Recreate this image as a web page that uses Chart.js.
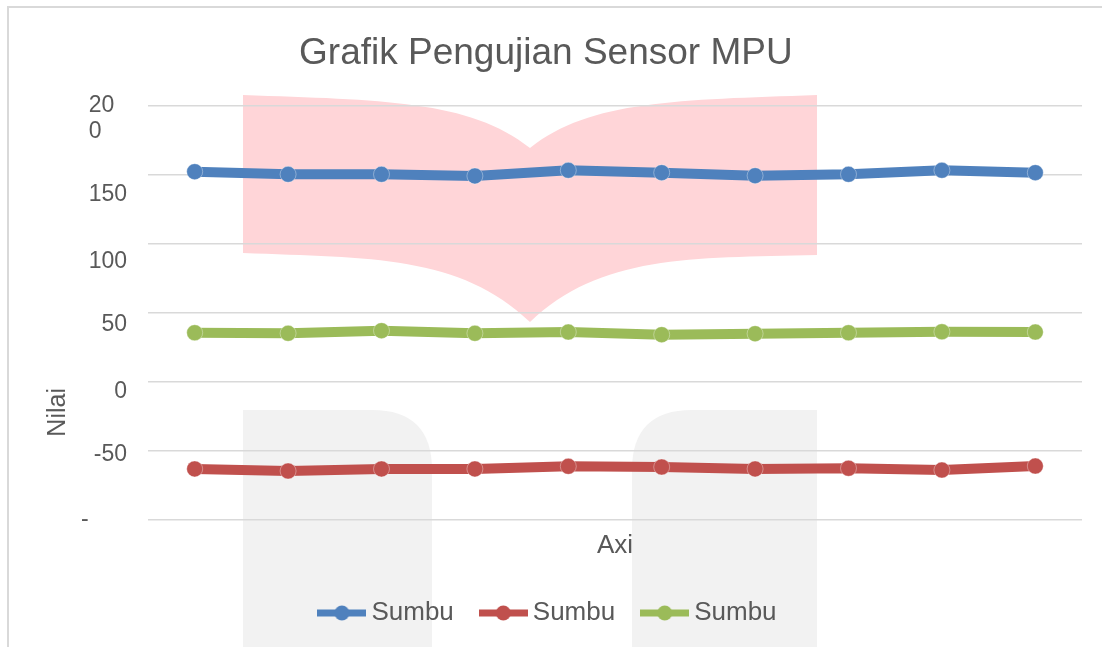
<!DOCTYPE html>
<html>
<head>
<meta charset="utf-8">
<script src="https://cdn.jsdelivr.net/npm/chart.js@4.4.1/dist/chart.umd.min.js"></script>
<style>
  html, body { margin: 0; padding: 0; background: #fff; }
  #wrap { position: relative; width: 1102px; height: 647px; }
</style>
</head>
<body>
<div id="wrap"><canvas id="mpuChart" width="1102" height="647"></canvas></div>
<script>
// data
const labels = ['1', '2', '3', '4', '5', '6', '7', '8', '9', '10'];
const sumbuX = [152.4, 150.5, 150.5, 149.3, 153.4, 151.7, 149.5, 150.5, 153.4, 151.7];
const sumbuY = [-63.0, -64.5, -63.0, -63.0, -61.1, -61.6, -63.0, -62.5, -63.8, -60.9];
const sumbuZ = [35.7, 35.3, 37.2, 35.3, 36.2, 34.3, 35.0, 35.7, 36.4, 36.2];
const seriesNames = ['Sumbu', 'Sumbu', 'Sumbu'];
const seriesColors = ['#4F81BD', '#C0504D', '#9BBB59'];
const yTicks = [200, 150, 100, 50, 0, -50, -100];

const FONT = '"Liberation Sans", Arial, sans-serif';
const TXT = '#595959';

// the labels in the picture sit a bit below their gridlines, by a different amount each
const labelDrop = { 200: 26, 150: 40, 100: 36, 50: 24, 0: 20, '-50': 8, '-100': 0 };

// legend symbol: short thick line with a dot in the middle
function legendIcon(color) {
    const c = document.createElement('canvas');
    c.width = 49; c.height = 18;
    const g = c.getContext('2d');
    g.strokeStyle = color;
    g.lineWidth = 7;
    g.beginPath(); g.moveTo(0, 9); g.lineTo(49, 9); g.stroke();
    g.fillStyle = color;
    g.beginPath(); g.arc(24.5, 9, 7.5, 0, Math.PI * 2); g.fill();
    return c;
}

// page background: frame and the faded watermark behind the plot
const backdrop = {
    id: 'backdrop',
    beforeDraw(chart) {
        const ctx = chart.ctx;
        ctx.save();
        ctx.fillStyle = '#fff';
        ctx.fillRect(0, 0, chart.width, chart.height);

        // grey blocks
        ctx.fillStyle = '#F2F2F2';
        ctx.beginPath();
        ctx.moveTo(243, 647); ctx.lineTo(243, 410); ctx.lineTo(372, 410);
        ctx.quadraticCurveTo(432, 410, 432, 470); ctx.lineTo(432, 647); ctx.closePath();
        ctx.fill();
        ctx.beginPath();
        ctx.moveTo(817, 647); ctx.lineTo(817, 410); ctx.lineTo(692, 410);
        ctx.quadraticCurveTo(632, 410, 632, 470); ctx.lineTo(632, 647); ctx.closePath();
        ctx.fill();

        // pink book
        ctx.fillStyle = '#FFD5D8';
        ctx.beginPath();
        ctx.moveTo(243, 95);
        ctx.bezierCurveTo(380, 100, 470, 100, 530, 148);
        ctx.bezierCurveTo(590, 100, 680, 100, 817, 95);
        ctx.lineTo(817, 255);
        ctx.bezierCurveTo(690, 258, 600, 255, 530, 322);
        ctx.bezierCurveTo(460, 255, 370, 258, 243, 253);
        ctx.closePath();
        ctx.fill();

        // frame
        ctx.strokeStyle = '#D9D9D9';
        ctx.lineWidth = 2;
        ctx.strokeRect(8, 7, 1110, 700);
        ctx.restore();
    }
};

const makeSet = (name, values, color) => ({
    label: name,
    data: values,
    borderColor: color,
    backgroundColor: color,
    borderWidth: 10,
    pointRadius: 8,
    pointHoverRadius: 8,
    pointBackgroundColor: color,
    pointBorderColor: 'rgba(255,255,255,0.35)',
    pointBorderWidth: 1,
    tension: 0
});

const ctx = document.getElementById('mpuChart').getContext('2d');
new Chart(ctx, {
    type: 'line',
    data: {
        labels: labels,
        datasets: [
            makeSet(seriesNames[0], sumbuX, seriesColors[0]),
            makeSet(seriesNames[1], sumbuY, seriesColors[1]),
            makeSet(seriesNames[2], sumbuZ, seriesColors[2])
        ]
    },
    options: {
        responsive: false,
        animation: false,
        layout: { padding: { left: 20, right: 20, top: 10, bottom: 11 } },
        plugins: {
            title: {
                display: true,
                text: 'Grafik Pengujian Sensor MPU ',
                color: TXT,
                font: { family: FONT, size: 37, weight: 'normal' },
                padding: { top: 22, bottom: 29.6 }
            },
            legend: {
                position: 'bottom',
                labels: {
                    usePointStyle: true,
                    pointStyleWidth: 33,
                    color: TXT,
                    font: { family: FONT, size: 26 },
                    padding: 33,
                    generateLabels(chart) {
                        return chart.data.datasets.map((ds, i) => ({
                            text: ds.label,
                            fillStyle: ds.borderColor,
                            strokeStyle: ds.borderColor,
                            lineWidth: 0,
                            pointStyle: legendIcon(ds.borderColor),
                            fontColor: TXT,
                            datasetIndex: i
                        }));
                    }
                }
            },
            tooltip: { enabled: false }
        },
        scales: {
            x: {
                offset: true,
                afterFit(scale) { scale.height = 47; },
                grid: { display: false, drawTicks: false },
                border: { display: false },
                ticks: { display: false },
                title: {
                    display: true,
                    text: 'Axi',
                    color: TXT,
                    font: { family: FONT, size: 26 },
                    padding: { top: 0, bottom: 6 }
                }
            },
            y: {
                min: -100,
                max: 200,
                afterFit(scale) { scale.width = 128; },
                afterBuildTicks(scale) { scale.ticks = yTicks.map(v => ({ value: v })); },
                grid: { color: '#D9D9D9', lineWidth: 1.5, drawTicks: false },
                border: { display: false },
                ticks: {
                    color: TXT,
                    padding: 21,
                    autoSkip: false,
                    font(c) {
                        const d = c.tick ? labelDrop[c.tick.value] : 0;
                        return { family: FONT, size: 23, lineHeight: (d || 27) + 'px' };
                    },
                    // the top and bottom labels are wrapped and left-aligned in the picture
                    callback(v) {
                        if (v === 200) return ['', '20  ', '0    '];
                        if (v === -100) return '-      ';
                        return ['', String(v)];
                    }
                },
                title: {
                    display: true,
                    text: '            Nilai',
                    align: 'start',
                    color: TXT,
                    font: { family: FONT, size: 25 },
                    padding: { top: 23, bottom: 0 }
                }
            }
        }
    },
    plugins: [backdrop]
});
</script>
</body>
</html>
